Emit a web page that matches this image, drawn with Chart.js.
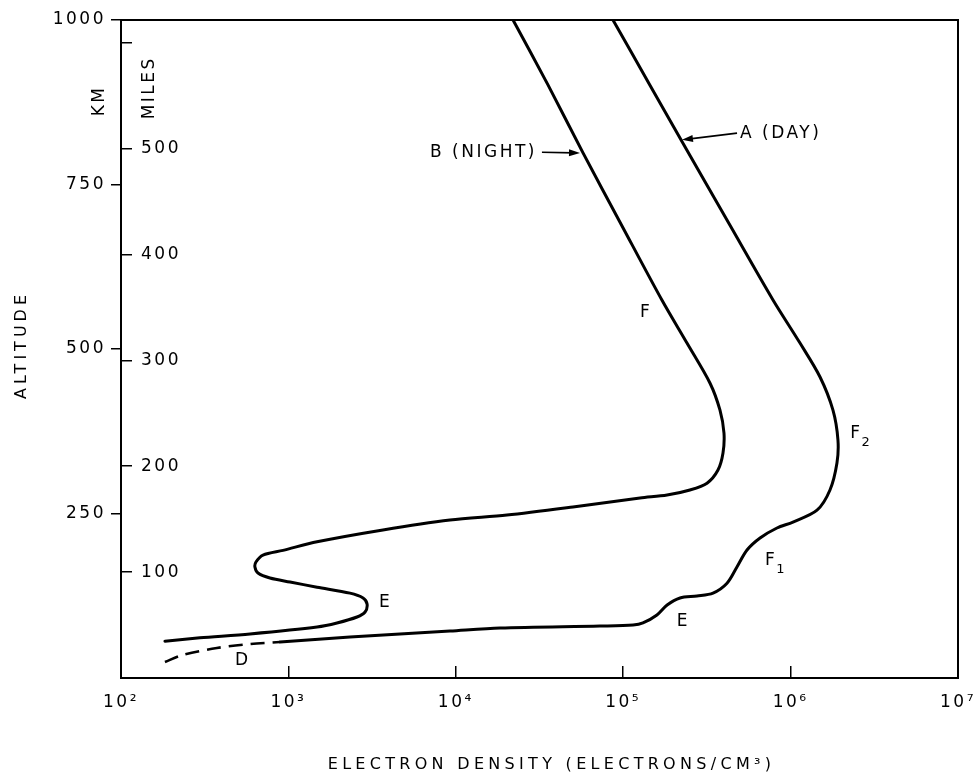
<!DOCTYPE html>
<html>
<head>
<meta charset="utf-8">
<script src="https://cdn.jsdelivr.net/npm/chart.js@4.4.1/dist/chart.umd.min.js"></script>
<style>
html,body{margin:0;padding:0;background:#fff;overflow:hidden;}
canvas{display:block;}
</style>
</head>
<body>
<canvas id="chart" width="979" height="775"></canvas>
<script>
// ---------------- data ----------------
const xTickValues = [1e2, 1e3, 1e4, 1e5, 1e6, 1e7];
const xTickLabels = ['10²', '10³', '10⁴', '10⁵', '10⁶', '10⁷'];
const kmTickValues = [250, 500, 750, 1000];
const kmTickLabels = ['250', '500', '750', '1000'];
const mileTickValues = [100, 200, 300, 400, 500, 600];
const mileTickLabels = ['100', '200', '300', '400', '500', ''];
const KM_PER_MILE = 1.609344;

// Curve B (night), traced from the top down
const nightDensity = [21980, 35600, 57540, 98400, 170600, 240400, 330200, 378600, 400000, 394600, 368300, 316700, 250400, 182800, 126000, 50100, 20200, 9230, 3670, 1483, 929, 705, 640, 631, 658, 776, 1023, 1483, 2333, 2793, 2951, 2871, 2570, 1950, 1483, 590, 296, 183];
const nightAltitude = [1000, 901, 798, 687, 574, 509, 448, 407, 372, 342, 316, 296, 285.7, 278, 273.6, 260, 247.7, 240, 225, 207, 194, 186.9, 176.3, 168.7, 159.6, 152, 145.9, 138, 129, 121.6, 112.5, 100.3, 92.7, 83.6, 77.5, 67, 61, 56];

// Curve A (day), solid part, bottom to top
const dayDensity = [891, 2333, 9230, 18370, 72600, 114600, 131200, 159000, 183000, 218500, 276000, 344000, 417000, 478000, 549000, 657000, 829000, 1033000, 1438000, 1719000, 1892000, 1918000, 1791000, 1499000, 1138000, 785000, 434500, 240400, 144500, 86900];
const dayAltitude = [54.7, 62.3, 71.4, 76, 79, 80.5, 83.6, 95.7, 111, 121.6, 124.6, 129, 144, 168.7, 194.5, 212.8, 228, 237, 255, 285.7, 326.7, 361.7, 407, 457.4, 509, 574.5, 688, 802, 901, 1000];

// Curve A, dashed D-region part
const dRegionDensity = [183, 234, 374, 590, 891];
const dRegionAltitude = [24.3, 35, 45.6, 51.7, 54.7];

// In-plot labels (left edge / vertical centre, data coordinates)
const labelTexts = ['F', 'F', 'F', 'E', 'E', 'D', 'B (NIGHT)', 'A (DAY)'];
const labelSubs = ['', '2', '1', '', '', '', '', ''];
const labelDensity = [126000, 2270000, 703000, 209000, 3475, 480, 7015, 499000];
const labelAltitude = [556, 372, 179, 85, 114, 27, 799, 828];

// Pointer arrows
const arrowFromDensity = [32700, 478600];
const arrowFromAltitude = [799, 828];
const arrowToDensity = [55200, 224400];
const arrowToAltitude = [798, 818];

const toPoints = (xs, ys) => xs.map((v, i) => ({x: v, y: ys[i]}));

const FONT = '"DejaVu Sans", "Liberation Sans", sans-serif';
const INK = '#000';

const bgPlugin = {
  id: 'bg',
  beforeDraw(chart) {
    const c = chart.ctx;
    c.save();
    c.fillStyle = '#fff';
    c.fillRect(0, 0, chart.width, chart.height);
    c.restore();
    c.letterSpacing = '2.5px';
  }
};

const annotPlugin = {
  id: 'annot',
  afterDraw(chart) {
    const {ctx, scales, chartArea} = chart;
    const x = scales.x, y = scales.y;
    ctx.save();
    ctx.fillStyle = INK;
    ctx.strokeStyle = INK;
    ctx.textBaseline = 'middle';
    ctx.textAlign = 'left';
    ctx.letterSpacing = '2.5px';
    labelTexts.forEach((t, i) => {
      const px = x.getPixelForValue(labelDensity[i]);
      const py = y.getPixelForValue(labelAltitude[i]);
      ctx.font = '17px ' + FONT;
      ctx.fillText(t, px, py);
      if (labelSubs[i]) {
        const w = ctx.measureText(t).width;
        ctx.font = '13px ' + FONT;
        ctx.fillText(labelSubs[i], px + w - 1, py + 9);
      }
    });
    // arrows
    ctx.lineWidth = 1.7;
    arrowFromDensity.forEach((d, i) => {
      const x1 = x.getPixelForValue(d), y1 = y.getPixelForValue(arrowFromAltitude[i]);
      const x2 = x.getPixelForValue(arrowToDensity[i]), y2 = y.getPixelForValue(arrowToAltitude[i]);
      const ang = Math.atan2(y2 - y1, x2 - x1);
      ctx.beginPath();
      ctx.moveTo(x1, y1);
      ctx.lineTo(x2 - 6 * Math.cos(ang), y2 - 6 * Math.sin(ang));
      ctx.stroke();
      ctx.beginPath();
      ctx.moveTo(x2, y2);
      ctx.lineTo(x2 - 11 * Math.cos(ang) + 3.5 * Math.sin(ang), y2 - 11 * Math.sin(ang) - 3.5 * Math.cos(ang));
      ctx.lineTo(x2 - 11 * Math.cos(ang) - 3.5 * Math.sin(ang), y2 - 11 * Math.sin(ang) + 3.5 * Math.cos(ang));
      ctx.closePath();
      ctx.fill();
    });
    // KM / MILES unit notes beside the altitude axis
    ctx.font = '17px ' + FONT;
    ctx.textAlign = 'center';
    [['KM', chartArea.left - 21, 877], ['MILES', chartArea.left + 29, 897]].forEach(([t, px, alt]) => {
      ctx.save();
      ctx.translate(px, y.getPixelForValue(alt));
      ctx.rotate(-Math.PI / 2);
      ctx.fillText(t, 0, 0);
      ctx.restore();
    });
    // axis titles
    ctx.letterSpacing = '4.3px';
    ctx.font = '16px ' + FONT;
    ctx.fillText('ELECTRON DENSITY (ELECTRONS/CM³)', (x.left + x.right) / 2 + 12, chart.height - 10);
    ctx.letterSpacing = '4px';
    ctx.save();
    ctx.translate(22, (chartArea.top + chartArea.bottom) / 2 - 4);
    ctx.rotate(-Math.PI / 2);
    ctx.fillText('ALTITUDE', 0, 0);
    ctx.restore();
    ctx.restore();
  }
};

const tickFont = {family: FONT, size: 17, lineHeight: 1.2};
const noPad = s => { s.paddingTop = 0; s.paddingBottom = 0; s.paddingLeft = 0; s.paddingRight = 0; };

new Chart(document.getElementById('chart'), {
  type: 'scatter',
  data: {
    datasets: [
      {
        label: 'A (DAY) D region',
        data: toPoints(dRegionDensity, dRegionAltitude),
        showLine: true, borderColor: '#000', borderWidth: 2.6, borderDash: [14, 8],
        pointRadius: 0, tension: 0.3, xAxisID: 'x', yAxisID: 'y'
      },
      {
        label: 'A (DAY)',
        data: toPoints(dayDensity, dayAltitude),
        showLine: true, borderColor: '#000', borderWidth: 3, borderCapStyle: 'round', borderJoinStyle: 'round',
        pointRadius: 0, tension: 0.3, xAxisID: 'x', yAxisID: 'y'
      },
      {
        label: 'B (NIGHT)',
        data: toPoints(nightDensity, nightAltitude),
        showLine: true, borderColor: '#000', borderWidth: 3, borderCapStyle: 'round', borderJoinStyle: 'round',
        pointRadius: 0, tension: 0.3, xAxisID: 'x', yAxisID: 'y'
      }
    ]
  },
  options: {
    responsive: false,
    animation: false,
    devicePixelRatio: 1,
    events: [],
    layout: {padding: {top: 20, right: 21, left: 0, bottom: 0}},
    plugins: {legend: {display: false}, tooltip: {enabled: false}, title: {display: false}},
    scales: {
      x: {
        type: 'logarithmic', position: 'bottom', min: 100, max: 1e7,
        afterBuildTicks: s => { s.ticks = xTickValues.map(v => ({value: v})); },
        afterFit: s => { s.height = 97; noPad(s); },
        ticks: {
          autoSkip: false, maxRotation: 0, minRotation: 0, padding: 26, color: INK, font: tickFont,
          callback: (v, i) => xTickLabels[i]
        },
        grid: {display: true, drawOnChartArea: false, drawTicks: true, tickLength: -12, color: '#000', lineWidth: 1.5},
        border: {display: true, color: '#000', width: 2}
      },
      y: {
        type: 'linear', position: 'left', min: 0, max: 1000, weight: 1,
        afterBuildTicks: s => { s.ticks = kmTickValues.map(v => ({value: v})); },
        afterFit: s => { s.width = 121; noPad(s); },
        ticks: {padding: 5, color: INK, font: tickFont, callback: (v, i) => kmTickLabels[i]},
        grid: {display: true, drawOnChartArea: false, drawTicks: true, tickLength: 10, color: '#000', lineWidth: 1.5},
        border: {display: true, color: '#000', width: 2}
      },
      y2: {
        type: 'linear', position: 'left', min: 0, max: 1000 / KM_PER_MILE, weight: 0,
        afterBuildTicks: s => { s.ticks = mileTickValues.map(v => ({value: v})); },
        afterFit: s => { s.width = 0; noPad(s); },
        ticks: {mirror: true, padding: 20, color: INK, font: tickFont, callback: (v, i) => mileTickLabels[i]},
        grid: {display: true, drawOnChartArea: false, drawTicks: true, tickLength: -11, color: '#000', lineWidth: 1.5},
        border: {display: false}
      },
      xTop: {
        type: 'linear', position: 'top', min: 0, max: 1,
        afterFit: s => { s.height = 0; noPad(s); },
        ticks: {display: false}, grid: {display: false},
        border: {display: true, color: '#000', width: 2}
      },
      yRight: {
        type: 'linear', position: 'right', min: 0, max: 1,
        afterFit: s => { s.width = 0; noPad(s); },
        ticks: {display: false}, grid: {display: false},
        border: {display: true, color: '#000', width: 2}
      }
    }
  },
  plugins: [bgPlugin, annotPlugin]
});
</script>
</body>
</html>
